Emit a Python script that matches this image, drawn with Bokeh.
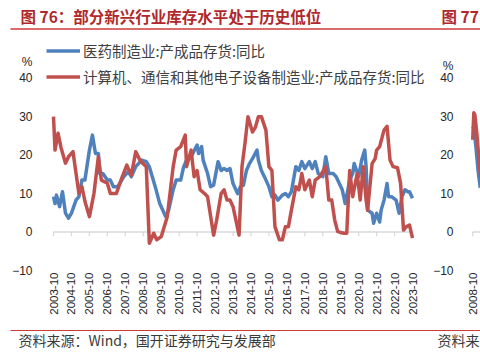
import numpy as np
import pandas as pd
from bokeh.plotting import figure
from bokeh.layouts import column, row
from bokeh.models import (Range1d, FixedTicker, DatetimeTickFormatter,
                          Legend, LegendItem)
from bokeh.core.properties import value
from bokeh.embed import file_html
from bokeh.resources import INLINE

# ---------------- texts ----------------
TITLE = "图 76：部分新兴行业库存水平处于历史低位"
NEXT_TITLE = "图 77"
SOURCE = "资料来源：Wind，国开证券研究与发展部"
NEXT_SOURCE = "资料来"
UNIT = "%"
SERIES_NAMES = ["医药制造业:产成品存货:同比",
                "计算机、通信和其他电子设备制造业:产成品存货:同比"]

# ---------------- axes ----------------
TICK_LABELS = ["2003-10", "2004-10", "2005-10", "2006-10", "2007-10", "2008-10",
               "2009-10", "2010-10", "2011-10", "2012-10", "2013-10", "2014-10",
               "2015-10", "2016-10", "2017-10", "2018-10", "2019-10", "2020-10",
               "2021-10", "2022-10", "2023-10"]
Y_TICKS = [-10, 0, 10, 20, 30, 40]

# ---------------- series ----------------
MED_DATES = ["2003-10", "2003-11", "2003-12", "2004-02", "2004-04", "2004-06", "2004-08",
             "2004-10", "2005-01", "2005-03", "2005-05", "2005-07", "2005-10", "2005-12",
             "2006-02", "2006-04", "2006-05", "2006-07", "2006-10", "2006-12", "2007-02",
             "2007-05", "2007-09", "2007-12", "2008-02", "2008-05", "2008-09", "2008-12",
             "2009-02", "2009-06", "2009-09", "2010-01", "2010-03", "2010-06", "2010-08",
             "2010-11", "2011-01", "2011-03", "2011-06", "2011-10", "2011-11", "2012-01",
             "2012-02", "2012-05", "2012-07", "2012-09", "2012-12", "2013-02", "2013-04",
             "2013-06", "2013-08", "2013-10", "2014-01", "2014-03", "2014-05", "2014-07",
             "2014-09", "2014-11", "2015-02", "2015-03", "2015-05", "2015-07", "2015-10",
             "2015-12", "2016-02", "2016-04", "2016-07", "2016-09", "2016-11", "2017-01",
             "2017-04", "2017-06", "2017-08", "2017-10", "2018-01", "2018-03", "2018-05",
             "2018-07", "2018-10", "2018-12", "2019-02", "2019-05", "2019-07", "2019-11",
             "2020-01", "2020-04", "2020-06", "2020-07", "2020-10", "2020-12", "2021-02",
             "2021-03", "2021-04", "2021-07", "2021-08", "2021-10", "2021-12", "2022-01",
             "2022-03", "2022-05", "2022-06", "2022-08", "2022-11", "2023-01", "2023-03",
             "2023-05", "2023-07", "2023-08", "2023-10"]
MED_VALUES = [9.2, 7.4, 9.6, 6.6, 10.5, 4.9, 3.6,
              4.9, 8.3, 9.2, 13.5, 13.5, 21.3, 25.2,
              20.4, 20.4, 15.2, 15.2, 13.5, 13.5, 11.8,
              11.8, 14.4, 15.7, 14.4, 17.0, 18.7, 18.3,
              17.0, 11.8, 7.4, 4.0, 5.7, 11.0, 13.5,
              13.5, 17.0, 18.7, 19.6, 22.6, 20.4, 22.2,
              18.7, 15.2, 11.8, 12.2, 18.3, 16.0, 16.5,
              16.0, 16.5, 12.6, 10.0, 11.8, 12.2, 16.0,
              17.8, 19.1, 21.3, 18.7, 16.0, 14.4, 11.8,
              9.2, 9.6, 8.3, 9.6, 10.0, 9.2, 10.5,
              17.0, 16.0, 18.3, 16.5, 18.3, 16.5, 18.3,
              15.2, 14.4, 19.6, 15.2, 15.2, 14.4, 11.0,
              7.4, 13.5, 15.2, 17.8, 14.4, 18.7, 21.3,
              17.0, 5.7, 4.9, 2.3, 4.9, 2.6, 5.7,
              8.3, 12.6, 9.2, 9.2, 8.3, 4.9, 9.2,
              11.0, 10.5, 10.5, 8.8]

ELEC_DATES = ["2003-10", "2003-11", "2004-01", "2004-03", "2004-06", "2004-08", "2004-11",
              "2005-01", "2005-03", "2005-05", "2005-07", "2005-10", "2006-01", "2006-04",
              "2006-06", "2006-10", "2006-12", "2007-04", "2007-08", "2007-11", "2008-02",
              "2008-05", "2008-08", "2008-12", "2009-02", "2009-05", "2009-07", "2009-10",
              "2010-02", "2010-06", "2010-08", "2010-11", "2011-02", "2011-03", "2011-06",
              "2011-08", "2011-10", "2011-12", "2012-03", "2012-05", "2012-09", "2012-11",
              "2013-02", "2013-04", "2013-06", "2013-08", "2013-10", "2014-02", "2014-04",
              "2014-06", "2014-08", "2014-11", "2015-01", "2015-03", "2015-05", "2015-08",
              "2015-10", "2015-12", "2016-02", "2016-05", "2016-07", "2016-09", "2016-11",
              "2017-01", "2017-04", "2017-06", "2017-08", "2017-10", "2018-01", "2018-03",
              "2018-05", "2018-08", "2018-12", "2019-02", "2019-04", "2019-06", "2019-08",
              "2019-12", "2020-02", "2020-04", "2020-06", "2020-09", "2020-11", "2021-01",
              "2021-03", "2021-04", "2021-07", "2021-09", "2021-10", "2021-12", "2022-03",
              "2022-05", "2022-07", "2022-09", "2022-12", "2023-02", "2023-04", "2023-06",
              "2023-08", "2023-10"]
ELEC_VALUES = [30.0, 21.3, 25.7, 22.0, 17.9, 19.6, 20.9,
               15.3, 10.0, 11.8, 8.0, 4.0, 10.0, 19.6,
               13.5, 12.7, 10.0, 10.0, 14.4, 17.4, 14.8,
               20.9, 18.5, 17.0, -2.9, -0.3, -2.0, -1.2,
               4.0, 17.0, 21.3, 22.2, 25.2, 17.0, 21.3,
               14.4, 16.0, 11.0, 10.0, 9.2, -0.8, 3.0,
               10.0, 11.0, 8.3, 8.3, 6.6, -0.8, 17.0,
               23.0, 30.0, 26.0, 27.3, 30.0, 30.0, 26.5,
               17.0, 16.0, 1.4, -2.0, -2.0, 1.4, 1.4,
               5.7, 11.8, 11.0, 15.2, 11.0, 13.5, 9.2,
               13.5, 14.4, 17.0, 8.3, 8.3, 3.1, 0.1,
               -0.3, -0.3, 16.0, 9.2, 15.2, 8.3, 17.0,
               8.3, 5.7, 17.8, 19.1, 21.3, 22.2, 26.5,
               27.5, 18.7, 17.0, 16.7, 12.6, 0.5, 1.4,
               1.8, -1.6]

# neighbouring chart (figure 77), only its left edge is visible
NEXT_TICK_LABELS = ["2008-10"]
NEXT_A_DATES = ["2008-10", "2008-11", "2009-01", "2009-03", "2009-05"]
NEXT_A_VALUES = [27.5, 27.0, 22.0, 16.0, 11.5]
NEXT_B_DATES = ["2008-10", "2008-11", "2008-12", "2009-02", "2009-04", "2009-06"]
NEXT_B_VALUES = [24.0, 31.0, 30.5, 25.0, 18.0, 13.0]

# ---------------- style ----------------
BLUE = "#4F81BD"
RED = "#C0504D"
AXIS_GRAY = "#D9D9D9"
TEXT = "#262626"
TITLE_RED = "#B0282C"
RULE_RED = "#CC3A3A"
CJK = "Noto Sans CJK SC"
LATIN = "Liberation Sans"
YEAR_MS = 365.25 * 86400000.0
Y_TOP = 52.4          # frame reaches the top of the chart block, above the 40 tick


def to_dt(lst):
    return pd.to_datetime(lst, format="%Y-%m")


def to_ms(lst):
    return [float(t.value // 10**6) for t in to_dt(lst)]


def style_axes(p, ticks_ms, unit_pos, ystand=6):
    p.xgrid.visible = False
    p.ygrid.visible = False
    xa = p.xaxis[0]
    xa.ticker = FixedTicker(ticks=ticks_ms)
    fmt = "%Y-%m"
    xa.formatter = DatetimeTickFormatter(
        microseconds=fmt, milliseconds=fmt, seconds=fmt, minsec=fmt, minutes=fmt,
        hourmin=fmt, hours=fmt, days=fmt, months=fmt, years=fmt)
    xa.major_label_orientation = np.pi / 2
    xa.axis_line_color = None
    xa.major_tick_line_color = None
    xa.minor_tick_line_color = None
    xa.major_tick_out = 0
    xa.major_tick_in = 0
    xa.major_label_standoff = 2
    xa.major_label_text_font = LATIN
    xa.major_label_text_font_size = "11.5px"
    xa.major_label_text_color = TEXT
    ya = p.yaxis[0]
    # the "%" unit sits above the top tick, written as an extra axis label
    ya.ticker = FixedTicker(ticks=Y_TICKS + [unit_pos])
    ya.major_label_overrides = {unit_pos: UNIT}
    ya.axis_line_color = None
    ya.major_tick_line_color = None
    ya.minor_tick_line_color = None
    ya.major_label_standoff = ystand
    ya.major_label_text_font = LATIN
    ya.major_label_text_font_size = "12px"
    ya.major_label_text_color = TEXT


# ---------------- header ----------------
head = figure(width=480, height=30, x_range=Range1d(0, 480), y_range=Range1d(30, 0),
              x_axis_location=None, y_axis_location=None, min_border=0,
              outline_line_color=None, toolbar_location=None, output_backend="svg")
head.grid.visible = False
head.text(x=[20, 441], y=[15, 15], text=[TITLE, NEXT_TITLE], text_font=value(CJK),
          text_font_style="bold", text_font_size="15.5px", text_color=TITLE_RED,
          text_baseline="middle", text_align="left")
head.segment(x0=[10], y0=[28.5], x1=[480], y1=[28.5], line_color=RULE_RED, line_width=1.5)

# ---------------- main chart ----------------
tick_ms = to_ms(TICK_LABELS)
PPY = 17.95                 # pixels per year
FRAME_W = 386
x0 = tick_ms[0] - 9 / PPY * YEAR_MS
x1 = x0 + FRAME_W / PPY * YEAR_MS

p = figure(width=430, height=292, x_axis_type="datetime",
           x_range=Range1d(x0, x1), y_range=Range1d(-10, Y_TOP),
           min_border_left=44, min_border_right=0, min_border_top=0, min_border_bottom=52,
           outline_line_color=None, toolbar_location=None, output_backend="svg")
style_axes(p, tick_ms, 44.2)

p.line(x=[tick_ms[0], tick_ms[-1]], y=[0, 0], line_color=AXIS_GRAY, line_width=1.5)
p.segment(x0=tick_ms, y0=[0] * len(tick_ms), x1=tick_ms, y1=[-1.1] * len(tick_ms),
          line_color=AXIS_GRAY, line_width=1.2)

rb = p.line(x=to_dt(MED_DATES), y=MED_VALUES, line_color=BLUE, line_width=3.5,
            line_join="round")
rr = p.line(x=to_dt(ELEC_DATES), y=ELEC_VALUES, line_color=RED, line_width=3.5,
            line_join="round")

legend = Legend(items=[LegendItem(label=SERIES_NAMES[0], renderers=[rb]),
                       LegendItem(label=SERIES_NAMES[1], renderers=[rr])],
                location=(2, 183.5), orientation="vertical", padding=0, margin=0,
                spacing=5, glyph_width=34, glyph_height=21, label_height=21,
                label_standoff=3, border_line_color=None, background_fill_alpha=0,
                label_text_font=CJK, label_text_font_size="14.5px",
                label_text_color="#404040")
p.add_layout(legend)

# ---------------- neighbouring chart (cut off) ----------------
ntick_ms = to_ms(NEXT_TICK_LABELS)
NPPY = 20.0
nx0 = ntick_ms[0] - 8 / NPPY * YEAR_MS
nx1 = nx0 + 20 / NPPY * YEAR_MS
q = figure(width=50, height=292, x_axis_type="datetime",
           x_range=Range1d(nx0, nx1), y_range=Range1d(-10, Y_TOP),
           min_border_left=30, min_border_right=0, min_border_top=0, min_border_bottom=52,
           outline_line_color=None, toolbar_location=None, output_backend="svg")
style_axes(q, ntick_ms, 43.3, ystand=8)
q.line(x=[ntick_ms[0], nx1], y=[0, 0], line_color=AXIS_GRAY, line_width=1.5)
q.segment(x0=ntick_ms, y0=[0], x1=ntick_ms, y1=[-1.1], line_color=AXIS_GRAY, line_width=1.2)
q.line(x=to_dt(NEXT_A_DATES), y=NEXT_A_VALUES, line_color=BLUE, line_width=3.5,
       line_join="round")
q.line(x=to_dt(NEXT_B_DATES), y=NEXT_B_VALUES, line_color=RED, line_width=3.5,
       line_join="round")

# ---------------- footer ----------------
foot = figure(width=480, height=30, x_range=Range1d(0, 480), y_range=Range1d(30, 0),
              x_axis_location=None, y_axis_location=None, min_border=0,
              outline_line_color=None, toolbar_location=None, output_backend="svg")
foot.grid.visible = False
foot.segment(x0=[10], y0=[8], x1=[480], y1=[8], line_color=RULE_RED, line_width=1.2)
foot.text(x=[18, 437], y=[17.5, 17.5], text=[SOURCE, NEXT_SOURCE], text_font=value(CJK),
          text_font_size="14px", text_color="#3A3A3A", text_baseline="middle",
          text_align="left")

layout = column(head, row(p, q, spacing=0), foot, spacing=0)
open("out.html", "w").write(file_html(layout, INLINE))
